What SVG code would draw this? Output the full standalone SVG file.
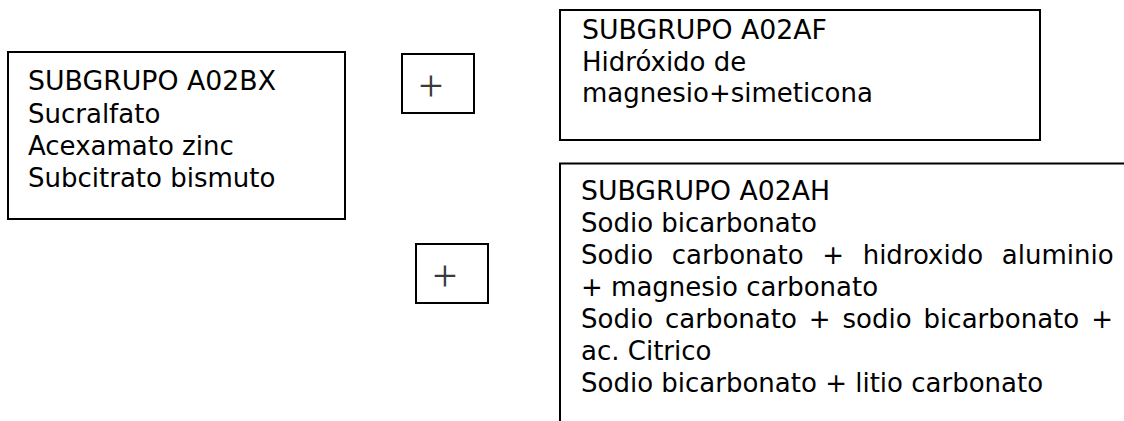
<svg xmlns="http://www.w3.org/2000/svg" width="1124" height="421" viewBox="0 0 1124 421">
<style>
.box{fill:#fff;stroke:#000;stroke-width:2}
.ln{stroke:#000;stroke-width:2;fill:none}
.t{font-family:"DejaVu Sans","Verdana",sans-serif;font-size:26px;fill:#000}
.p{font-family:"Liberation Serif","Times New Roman",serif;font-size:44px;fill:#3a3a3a;text-anchor:middle}
</style>
<rect width="1124" height="421" fill="#fff"/>
<g id="a02bx">
<rect class="box" x="8" y="52" width="337" height="167"/>
<text class="t" x="28" y="90" textLength="248" lengthAdjust="spacingAndGlyphs">SUBGRUPO A02BX</text>
<text class="t" x="28" y="122.5">Sucralfato</text>
<text class="t" x="28" y="154.5">Acexamato zinc</text>
<text class="t" x="28" y="186.5">Subcitrato bismuto</text>
</g>
<g id="plus1">
<rect class="box" x="402" y="54" width="72" height="59"/>
<text class="p" x="431" y="101">+</text>
</g>
<g id="plus2">
<rect class="box" x="416" y="244" width="72" height="59"/>
<text class="p" x="445" y="291">+</text>
</g>
<g id="a02af">
<rect class="box" x="560" y="10" width="480" height="130"/>
<text class="t" x="582" y="39" textLength="245" lengthAdjust="spacingAndGlyphs">SUBGRUPO A02AF</text>
<text class="t" x="582" y="70.5">Hidróxido de</text>
<text class="t" x="582" y="102">magnesio+simeticona</text>
</g>
<g id="a02ah">
<path class="ln" d="M1124 163.5H560V421"/>
<text class="t" x="581" y="199.5" textLength="249" lengthAdjust="spacingAndGlyphs">SUBGRUPO A02AH</text>
<text class="t" x="581" y="231.5">Sodio bicarbonato</text>
<text class="t" x="581" y="263.5" word-spacing="10.4">Sodio carbonato + hidroxido aluminio</text>
<text class="t" x="581" y="295.5">+ magnesio carbonato</text>
<text class="t" x="581" y="327.5" word-spacing="3.7">Sodio carbonato + sodio bicarbonato +</text>
<text class="t" x="581" y="359.5">ac. Citrico</text>
<text class="t" x="581" y="391.5">Sodio bicarbonato + litio carbonato</text>
</g>
<g id="connectors"/>
</svg>
